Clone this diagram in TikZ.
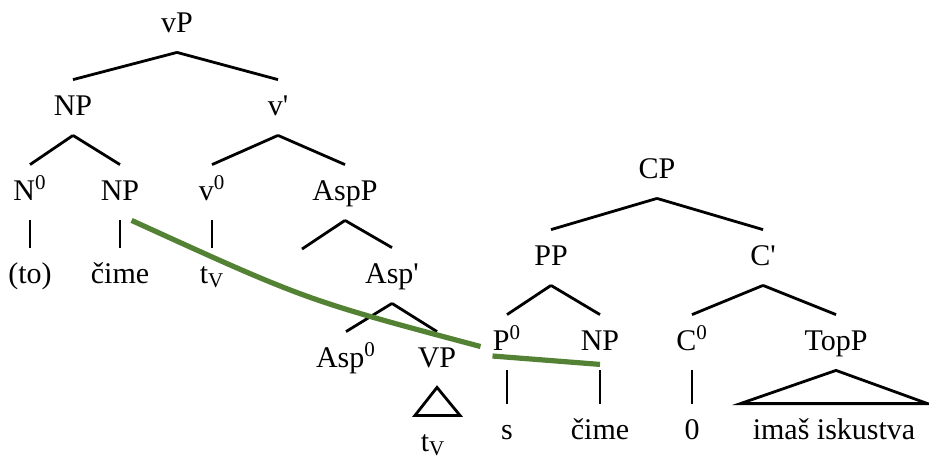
\documentclass[tikz,border=0pt]{standalone}
\usepackage{fontspec}
\setmainfont{Liberation Serif}
\usepackage{xcolor}
\definecolor{mvgreen}{HTML}{548235}

\begin{document}
\begin{tikzpicture}[
    x=0.5pt, y=-0.5pt,
    cat/.style={anchor=base,inner sep=0pt,text height=17.5pt,text depth=10pt,font=\fontsize{15}{18}\selectfont},
    branch/.style={line width=1.4pt},
    move/.style={draw=mvgreen,line width=2.6pt}
]
\useasboundingbox (0,0) rectangle (929,457);

% vP tree
\node[cat] (vP) at (177,32) {vP};
\node[cat] (npA) at (73,115) {NP};
\node[cat] (vBar) at (278,115) {v\textquotesingle};
\node[cat] (nZero) at (30,200) {N\textsuperscript{0}};
\node[cat] (npB) at (120,200) {NP};
\node[cat] (vZero) at (212,200) {v\textsuperscript{0}};
\node[cat] (aspP) at (345,200) {AspP};
\coordinate (aspSpec) at (302,249);
\node[cat] (aspBar) at (392,283) {Asp\textquotesingle};
\node[cat] (aspZero) at (346,367) {Asp\textsuperscript{0}};
\node[cat] (vpA) at (437,367) {VP};
\node[cat] (toW) at (30,283) {(to)};
\node[cat] (cimeA) at (120,283) {čime};
\node[cat] (tvA) at (212,283) {t\textsubscript{V}};
\node[cat] (tvB) at (433,451) {t\textsubscript{V}};

% CP tree
\node[cat] (cP) at (657,178) {CP};
\node[cat] (pP) at (551,265) {PP};
\node[cat] (cBar) at (763,265) {C\textquotesingle};
\node[cat] (pZero) at (507,350) {P\textsuperscript{0}};
\node[cat] (npC) at (600,350) {NP};
\node[cat] (cZero) at (692,350) {C\textsuperscript{0}};
\node[cat] (topP) at (836,350) {TopP};
\node[cat] (s) at (507,439) {s};
\node[cat] (cimeB) at (600,439) {čime};
\node[cat] (zero) at (692,439) {0};
\node[cat] (imas) at (834,439) {imaš iskustva};

% branches
\draw[branch] (vP.south) -- (npA.north) (vP.south) -- (vBar.north);
\draw[branch] (npA.south) -- (nZero.north) (npA.south) -- (npB.north);
\draw[branch] (vBar.south) -- (vZero.north) (vBar.south) -- (aspP.north);
\draw[branch] (aspP.south) -- (aspSpec) (aspP.south) -- (aspBar.north);
\draw[branch] (aspBar.south) -- (aspZero.north) (aspBar.south) -- (vpA.north);
\draw[branch] (nZero.south) -- (toW.north);
\draw[branch] (npB.south) -- (cimeA.north);
\draw[branch] (vZero.south) -- (tvA.north);
\draw[branch] (vpA.south) -- ++(-22,28) -- ++(45,0) -- cycle;

\draw[branch] (cP.south) -- (pP.north) (cP.south) -- (cBar.north);
\draw[branch] (pP.south) -- (pZero.north) (pP.south) -- (npC.north);
\draw[branch] (cBar.south) -- (cZero.north) (cBar.south) -- (topP.north);
\draw[branch] (pZero.south) -- (s.north);
\draw[branch] (npC.south) -- (cimeB.north);
\draw[branch] (cZero.south) -- (zero.north);
\draw[branch] (topP.south) -- ([xshift=6pt]imas.north east) -- ([xshift=-6pt]imas.north west) -- cycle;

% movement line
\draw[move] ([xshift=-4pt]npB.south east) .. controls (306,300) .. ([xshift=-6pt,yshift=-2pt]pZero.west);
\draw[move] ([yshift=-3pt]pZero.base west) -- ([yshift=3pt]npC.south);
\end{tikzpicture}
\end{document}
